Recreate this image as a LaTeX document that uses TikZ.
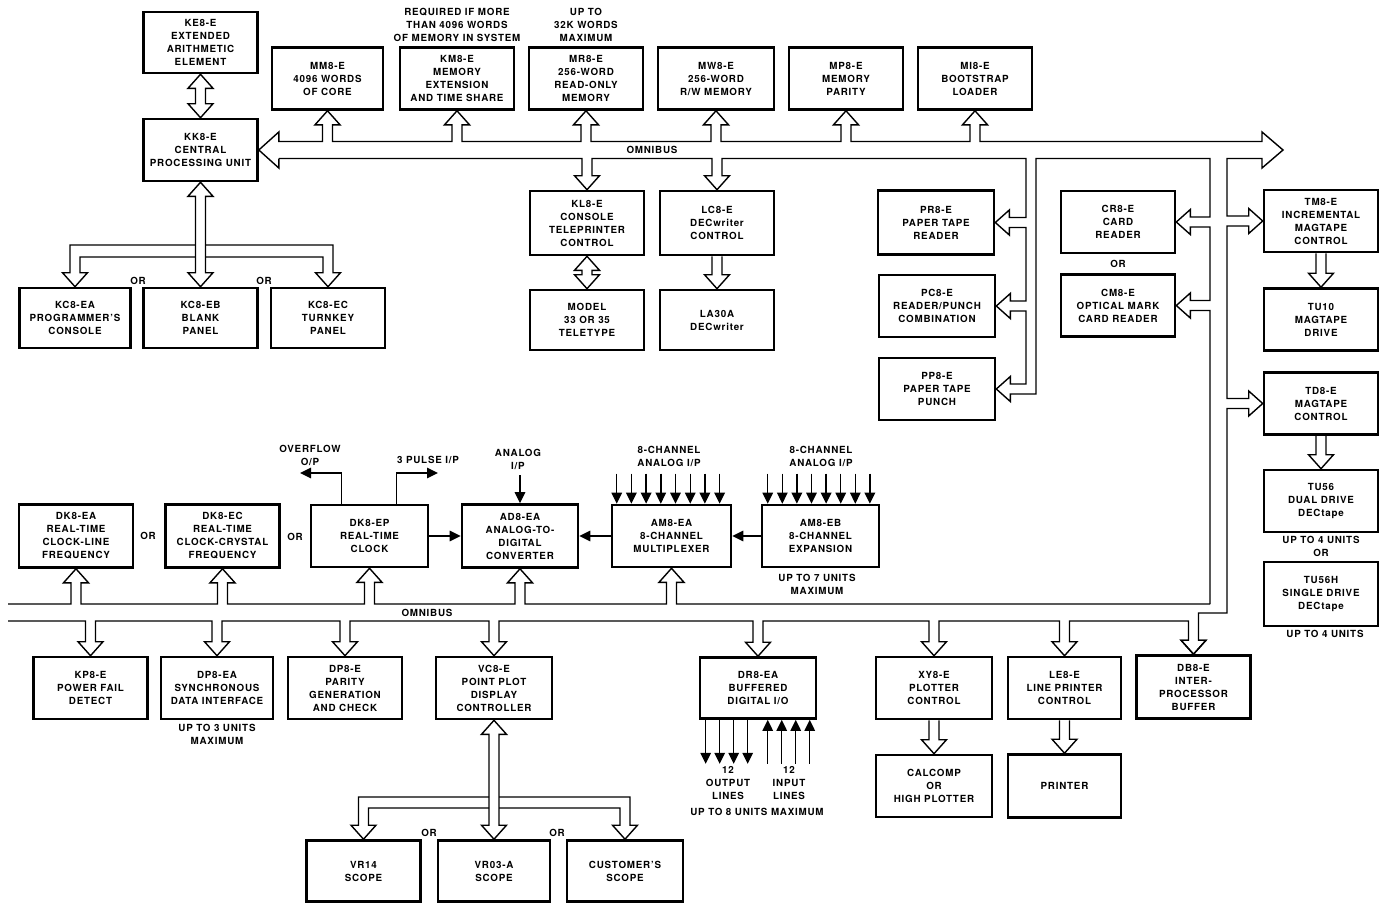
\documentclass[tikz,border=0pt]{standalone}
\usepackage{fontspec}
\setmainfont{TeX Gyre Heros}[LetterSpace=8.0]
\usepackage{tikz}
\usetikzlibrary{arrows.meta,calc}

% hollow heads of the bus pipes
\newcommand\hup[1]{-- ++(-7.5,0) -- (#1.south) -- ++(12.5,14) -- ++(-7.5,0)}
\newcommand\hdn[1]{-- ++(-7.5,0) -- (#1.north) -- ++(12.5,-14) -- ++(-7.5,0)}
\newcommand\hdnr[1]{-- ++(7.5,0) -- (#1.north) -- ++(-12.5,-14) -- ++(7.5,0)}
\newcommand\hlf[1]{-- ++(0,-7.5) -- (#1.east) -- ++(14,12.5) -- ++(0,-7.5)}
\newcommand\hrt[1]{-- ++(0,-7.5) -- (#1.west) -- ++(-14,12.5) -- ++(0,-7.5)}
% branches taken off a bus line (#2 = y of the line or x of the wall)
\newcommand\upin[2]{-| ([shift={(-5,14)}]#1.south) \hup{#1} -- ($(#1.south |- 0,#2)+(5,0)$)}
\newcommand\dnin[2]{-| ([shift={(-5,-14)}]#1.north) \hdn{#1} -- ($(#1.north |- 0,#2)+(5,0)$)}
\newcommand\lftin[2]{|- ([shift={(14,-5)}]#1.east) \hlf{#1} -- ($(#1.east -| #2,0)+(0,5)$)}
\newcommand\rgtin[2]{|- ([shift={(-14,-5)}]#1.west) \hrt{#1} -- ($(#1.west -| #2,0)+(0,5)$)}
\newcommand\dblv[2]{([shift={(-5,14)}]#1.south) \hup{#1} -- ([shift={(5,-14)}]#2.north) \hdnr{#2} -- cycle}
\newcommand\sdn[2]{([shift={(-5,0)}]#1.south) -- ([shift={(-5,-14)}]#2.north) \hdn{#2} -- ([shift={(5,0)}]#1.south)}

\begin{document}
\begin{tikzpicture}[x=1pt,y=-1pt,
  txt/.style={font=\fontsize{9.8}{13}\selectfont\bfseries},
  blk/.style={txt,draw,line width=2.6pt,minimum width=114pt,minimum height=62pt,align=center,inner sep=1pt},
  lbl/.style={txt,align=center,inner sep=0pt},
  pipe/.style={line width=1.4pt,line join=miter},
  sig/.style={line width=1.4pt,-{Triangle[length=11pt,width=10.5pt]}}]
\path[use as bounding box,fill=white] (0,0) rectangle (1381,903);

% processor and memory
\node[blk,minimum height=61pt] (ke8) at (200.5,42.5) {KE8-E\\EXTENDED\\ARITHMETIC\\ELEMENT};
\node[blk] (cpu) at (200.5,150) {KK8-E\\CENTRAL\\PROCESSING UNIT};
\node[blk,minimum width=111pt] (mm8) at (327.5,78.5) {MM8-E\\4096 WORDS\\OF CORE};
\node[blk] (km8) at (457,78.5) {KM8-E\\MEMORY\\EXTENSION\\AND TIME SHARE};
\node[blk] (mr8) at (586,78.5) {MR8-E\\256-WORD\\READ-ONLY\\MEMORY};
\node[blk,minimum width=116pt] (mw8) at (716,78.5) {MW8-E\\256-WORD\\R/W MEMORY};
\node[blk] (mp8) at (846,78.5) {MP8-E\\MEMORY\\PARITY};
\node[blk] (mi8) at (975,78.5) {MI8-E\\BOOTSTRAP\\LOADER};
\node[lbl] (req) at (457,25) {REQUIRED IF MORE\\THAN 4096 WORDS\\OF MEMORY IN SYSTEM};
\node[lbl] (upto32) at (586,25) {UP TO\\32K WORDS\\MAXIMUM};
\node[lbl] (omni1) at (652,150) {OMNIBUS};

% consoles
\node[blk,minimum width=111pt,minimum height=60pt] (kcea) at (75,318) {KC8-EA\\PROGRAMMER'S\\CONSOLE};
\node[blk,minimum height=60pt] (kceb) at (200.5,318) {KC8-EB\\BLANK\\PANEL};
\node[blk,minimum height=60pt] (kcec) at (328,318) {KC8-EC\\TURNKEY\\PANEL};
\node[lbl] (or1) at (138,281) {OR};
\node[lbl] (or2) at (264,281) {OR};
\node[blk,minimum height=64pt] (kl8) at (587,223) {KL8-E\\CONSOLE\\TELEPRINTER\\CONTROL};
\node[blk,minimum height=64pt] (lc8) at (717,223) {LC8-E\\DECwriter\\CONTROL};
\node[blk,minimum height=60pt] (tty) at (587,320) {MODEL\\33 OR 35\\TELETYPE};
\node[blk,minimum height=60pt] (la30) at (717,320) {LA30A\\DECwriter};

% paper tape, cards, magtape
\node[blk,minimum width=116pt,minimum height=64pt] (pr8) at (936,222.5) {PR8-E\\PAPER TAPE\\READER};
\node[blk,minimum width=116pt] (pc8) at (937,306) {PC8-E\\READER/PUNCH\\COMBINATION};
\node[blk,minimum width=116pt] (pp8) at (937,389) {PP8-E\\PAPER TAPE\\PUNCH};
\node[blk] (cr8) at (1118,222) {CR8-E\\CARD\\READER};
\node[lbl] (or3) at (1118,264) {OR};
\node[blk] (cm8) at (1118,305.5) {CM8-E\\OPTICAL MARK\\CARD READER};
\node[blk] (tm8) at (1321,221) {TM8-E\\INCREMENTAL\\MAGTAPE\\CONTROL};
\node[blk] (tu10) at (1321,319.5) {TU10\\MAGTAPE\\DRIVE};
\node[blk] (td8) at (1321,403.5) {TD8-E\\MAGTAPE\\CONTROL};
\node[blk] (tu56) at (1321,501) {TU56\\DUAL DRIVE\\DECtape};
\node[lbl] (upto4a) at (1321,540) {UP TO 4 UNITS};
\node[lbl] (or4) at (1321,553) {OR};
\node[blk,minimum height=64pt] (tu56h) at (1321,594) {TU56H\\SINGLE DRIVE\\DECtape};
\node[lbl] (upto4b) at (1325,634) {UP TO 4 UNITS};

% clocks and analog
\node[blk,minimum height=63pt] (dkea) at (76,536) {DK8-EA\\REAL-TIME\\CLOCK-LINE\\FREQUENCY};
\node[blk,minimum height=63pt] (dkec) at (222.5,536) {DK8-EC\\REAL-TIME\\CLOCK-CRYSTAL\\FREQUENCY};
\node[blk,minimum width=117pt] (dkep) at (369.5,536) {DK8-EP\\REAL-TIME\\CLOCK};
\node[blk,minimum width=116pt,minimum height=63pt] (ad8) at (520,536) {AD8-EA\\ANALOG-TO-\\DIGITAL\\CONVERTER};
\node[blk,minimum width=119pt] (am8a) at (671.5,536) {AM8-EA\\8-CHANNEL\\MULTIPLEXER};
\node[blk,minimum width=117pt] (am8b) at (820.5,536) {AM8-EB\\8-CHANNEL\\EXPANSION};
\node[lbl] (or5) at (148,536) {OR};
\node[lbl] (or6) at (295,537) {OR};
\node[lbl] (ovf) at (310,455.5) {OVERFLOW\\O/P};
\node[lbl] (pulse) at (428,460) {3 PULSE I/P};
\node[lbl] (analog) at (518,459.5) {ANALOG\\I/P};
\node[lbl] (ch8a) at (669,456.5) {8-CHANNEL\\ANALOG I/P};
\node[lbl] (ch8b) at (821,456.5) {8-CHANNEL\\ANALOG I/P};
\node[lbl] (upto7) at (817,584) {UP TO 7 UNITS\\MAXIMUM};
\node[lbl] (omni2) at (427,613) {OMNIBUS};

% lower row
\node[blk] (kp8) at (90.5,688) {KP8-E\\POWER FAIL\\DETECT};
\node[blk,minimum width=112pt] (dp8a) at (217,688) {DP8-EA\\SYNCHRONOUS\\DATA INTERFACE};
\node[lbl] (upto3) at (217,734.5) {UP TO 3 UNITS\\MAXIMUM};
\node[blk] (dp8) at (345,688) {DP8-E\\PARITY\\GENERATION\\AND CHECK};
\node[blk,minimum width=116pt] (vc8) at (494,688) {VC8-E\\POINT PLOT\\DISPLAY\\CONTROLLER};
\node[blk,minimum width=116pt,minimum height=61pt] (dr8) at (758,688) {DR8-EA\\BUFFERED\\DIGITAL I/O};
\node[blk,minimum width=116pt] (xy8) at (934,688) {XY8-E\\PLOTTER\\CONTROL};
\node[blk,minimum width=113pt] (le8) at (1064.5,688) {LE8-E\\LINE PRINTER\\CONTROL};
\node[blk,minimum height=63pt] (db8) at (1193.5,687) {DB8-E\\INTER-\\PROCESSOR\\BUFFER};
\node[blk,minimum width=116pt] (calc) at (934,786) {CALCOMP\\OR\\HIGH PLOTTER};
\node[blk,minimum width=113pt,minimum height=63pt] (prn) at (1064.5,786) {PRINTER};
\node[lbl] (out12) at (728,783) {12\\OUTPUT\\LINES};
\node[lbl] (in12) at (789,783) {12\\INPUT\\LINES};
\node[lbl] (upto8) at (757,812) {UP TO 8 UNITS MAXIMUM};
\node[blk,minimum height=61pt] (vr14) at (363.5,871) {VR14\\SCOPE};
\node[blk,minimum width=112pt,minimum height=61pt] (vr03) at (494,871) {VR03-A\\SCOPE};
\node[blk,minimum width=116pt,minimum height=61pt] (cust) at (625,871) {CUSTOMER'S\\SCOPE};
\node[lbl] (or7) at (429,833) {OR};
\node[lbl] (or8) at (557,833) {OR};

% upper omnibus, outer side and the right hand pipe
\draw[pipe] ([shift={(20,8.5)}]cpu.east) -- ++(0,9.5) -- (cpu.east) -- ++(20,-18) -- ++(0,9.5)
  \upin{mm8}{141.5} \upin{km8}{141.5} \upin{mr8}{141.5} \upin{mw8}{141.5} \upin{mp8}{141.5} \upin{mi8}{141.5}
  -- (1262,141.5) -- (1262,132) -- (1283,150) -- (1262,168) -- (1262,158.5) -- (1227,158.5)
  \rgtin{tm8}{1227} \rgtin{td8}{1227} -- (1227,613) -| ([shift={(5,-14)}]db8.north) \hdnr{db8};
% upper omnibus, inner side
\draw[pipe] ([shift={(20,8.5)}]cpu.east) \dnin{kl8}{158.5} \dnin{lc8}{158.5}
  -- (1026,158.5) \lftin{pr8}{1026} \lftin{pc8}{1026} |- ([shift={(14,-5)}]pp8.east) \hlf{pp8}
  -- ($(pp8.east -| 1036,0)+(0,5)$) -- (1036,158.5) -- (1210,158.5)
  \lftin{cr8}{1210} \lftin{cm8}{1210} -- (1210,604);
% lower omnibus
\draw[pipe] (8,604) \upin{dkea}{604} \upin{dkec}{604} \upin{dkep}{604} \upin{ad8}{604} \upin{am8a}{604} -- (1210,604);
\draw[pipe] (8,621) \dnin{kp8}{621} \dnin{dp8a}{621} \dnin{dp8}{621} \dnin{vc8}{621} \dnin{dr8}{621}
  \dnin{xy8}{621} \dnin{le8}{621} -| ([shift={(-5,-14)}]db8.north) \hdn{db8};

% short pipes
\draw[pipe] \dblv{ke8}{cpu};
\draw[pipe] \dblv{kl8}{tty};
\draw[pipe] \sdn{lc8}{la30};
\draw[pipe] \sdn{tm8}{tu10};
\draw[pipe] \sdn{td8}{tu56};
\draw[pipe] \sdn{xy8}{calc};
\draw[pipe] \sdn{le8}{prn};
\draw[pipe] \dblv{cpu}{kceb};
\draw[pipe] ($(cpu.south |- 0,245)+(-5,0)$) -| ([shift={(-5,-14)}]kcea.north) \hdn{kcea} |- ($(cpu.south |- 0,257)+(-5,0)$);
\draw[pipe] ($(cpu.south |- 0,245)+(5,0)$) -| ([shift={(5,-14)}]kcec.north) \hdnr{kcec} |- ($(cpu.south |- 0,257)+(5,0)$);
\draw[pipe] \dblv{vc8}{vr03};
\draw[pipe] ($(vc8.south |- 0,797)+(-5,0)$) -| ([shift={(-5,-14)}]vr14.north) \hdn{vr14} |- ($(vc8.south |- 0,808)+(-5,0)$);
\draw[pipe] ($(vc8.south |- 0,797)+(5,0)$) -| ([shift={(5,-14)}]cust.north) \hdnr{cust} |- ($(vc8.south |- 0,808)+(5,0)$);

% signal lines
\coordinate (ovtip) at (300,473);
\coordinate (pltip) at (438,473);
\coordinate (antop) at (520,475);
\draw[sig] ([shift={(-28,0)}]dkep.north) |- (ovtip);
\draw[sig] ([shift={(27,0)}]dkep.north) |- (pltip);
\draw[sig] (antop) -- (ad8.north);
\draw[sig] (dkep.east) -- (ad8.west);
\draw[sig] (am8a.west) -- (ad8.east);
\draw[sig] (am8b.west) -- (am8a.east);
\foreach \i in {0,...,7} {
  \draw[sig] ([shift={(6+14.7*\i,-30)}]am8a.north west) -- ([shift={(6+14.7*\i,0)}]am8a.north west);
  \draw[sig] ([shift={(7+14.6*\i,-30)}]am8b.north west) -- ([shift={(7+14.6*\i,0)}]am8b.north west);
}
\foreach \i in {0,...,3} {
  \draw[sig] ([shift={(7+14*\i,0)}]dr8.south west) -- ++(0,44);
  \draw[sig] ([shift={(69+14*\i,44)}]dr8.south west) -- ([shift={(69+14*\i,0)}]dr8.south west);
}
\end{tikzpicture}
\end{document}
